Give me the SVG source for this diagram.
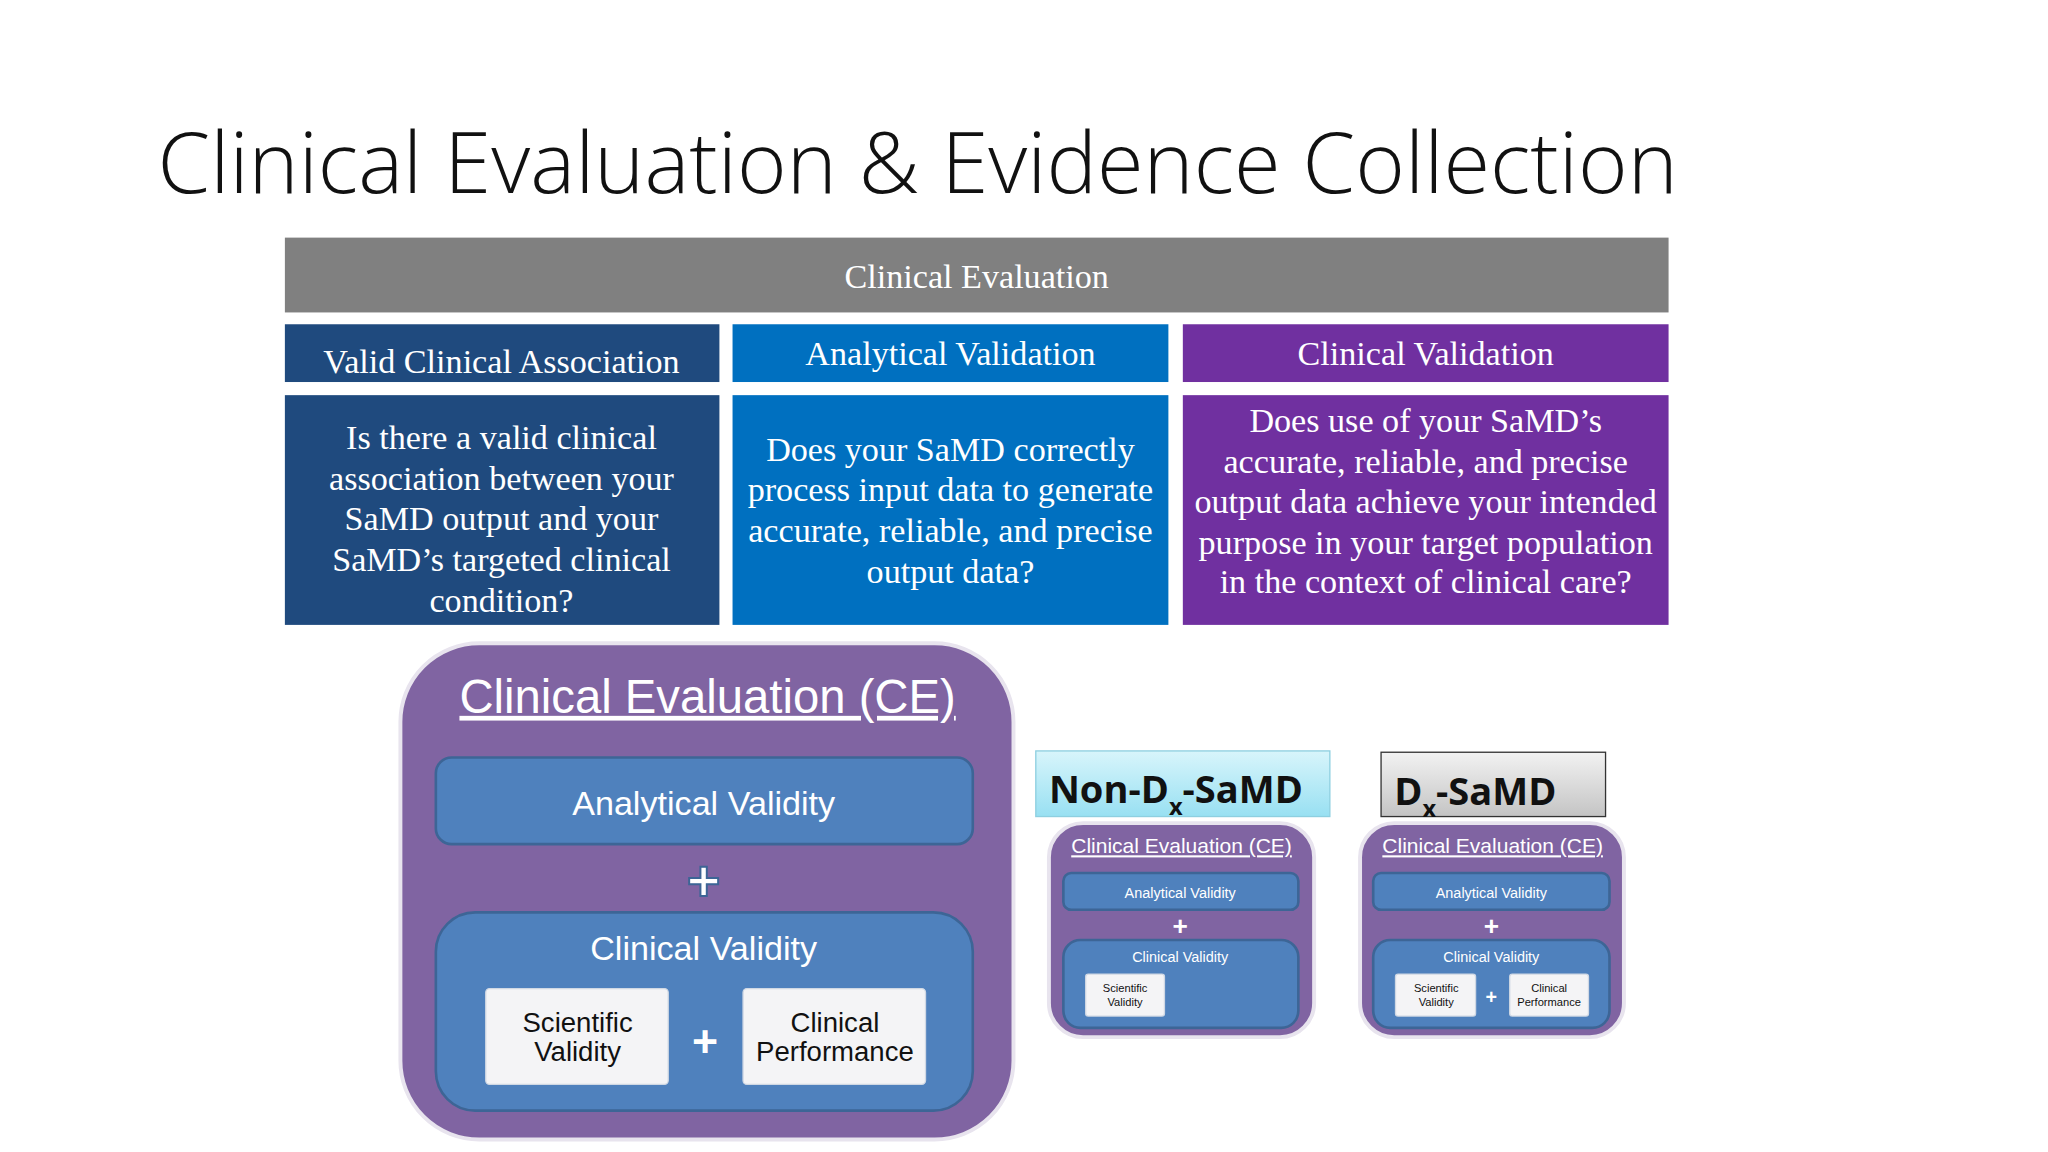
<svg xmlns="http://www.w3.org/2000/svg" width="2048" height="1152" viewBox="0 0 2048 1152">
<defs>
<style>
.ser{font-family:"Liberation Serif",serif;fill:#fff;text-anchor:middle}
.ss{font-family:"Liberation Sans",Arial,sans-serif;text-anchor:middle}
.w{fill:#fff}
.ce{fill:#8064a2;stroke:#e8e4ee;stroke-width:3}
.bl{fill:#4f81bd;stroke:#3d6596;stroke-width:2}
.wb{fill:#f4f4f6;stroke:#d0d8e4;stroke-width:1}
</style>
<linearGradient id="cy" x1="0" y1="0" x2="0" y2="1"><stop offset="0" stop-color="#d8f5fb"/><stop offset="1" stop-color="#98e0f2"/></linearGradient>
<linearGradient id="gr" x1="0" y1="0" x2="0" y2="1"><stop offset="0" stop-color="#f2f2f2"/><stop offset="1" stop-color="#c4c4c4"/></linearGradient>
</defs>
<rect width="2048" height="1152" fill="#fff"/>
<g transform="scale(1.3128)">
<g id="title"><text x="120" y="147" font-family="Open Sans,Noto Sans,sans-serif" font-weight="300" font-size="64" fill="#111" textLength="1158" lengthAdjust="spacingAndGlyphs">Clinical Evaluation &amp; Evidence Collection</text></g>
<g id="table">
<rect x="217" y="181" width="1054" height="57" fill="#808080"/>
<text class="ser" x="744" y="219" font-size="26">Clinical Evaluation</text>
<rect x="217" y="247" width="331" height="44" fill="#1f4a7e"/>
<text class="ser" x="382" y="284" font-size="26">Valid Clinical Association</text>
<rect x="558" y="247" width="332" height="44" fill="#0070c0"/>
<text class="ser" x="724" y="278" font-size="26">Analytical Validation</text>
<rect x="901" y="247" width="370" height="44" fill="#7030a0"/>
<text class="ser" x="1086" y="278" font-size="26">Clinical Validation</text>
<rect x="217" y="301" width="331" height="175" fill="#1f4a7e"/>
<text class="ser" font-size="26"><tspan x="382" y="342">Is there a valid clinical</tspan><tspan x="382" y="373">association between your</tspan><tspan x="382" y="404">SaMD output and your</tspan><tspan x="382" y="435">SaMD’s targeted clinical</tspan><tspan x="382" y="466">condition?</tspan></text>
<rect x="558" y="301" width="332" height="175" fill="#0070c0"/>
<text class="ser" font-size="26"><tspan x="724" y="351">Does your SaMD correctly</tspan><tspan x="724" y="382">process input data to generate</tspan><tspan x="724" y="413">accurate, reliable, and precise</tspan><tspan x="724" y="444">output data?</tspan></text>
<rect x="901" y="301" width="370" height="175" fill="#7030a0"/>
<text class="ser" font-size="26"><tspan x="1086" y="329">Does use of your SaMD’s</tspan><tspan x="1086" y="360">accurate, reliable, and precise</tspan><tspan x="1086" y="391">output data achieve your intended</tspan><tspan x="1086" y="422">purpose in your target population</tspan><tspan x="1086" y="452">in the context of clinical care?</tspan></text>
</g>
<g id="ce-big">
<rect class="ce" x="305" y="490" width="467" height="378" rx="60"/>
<text class="ss w" x="539" y="543" font-size="36" text-decoration="underline">Clinical Evaluation (CE)</text>
<rect class="bl" x="332" y="577" width="409" height="66" rx="12"/>
<text class="ss w" x="536" y="621" font-size="26">Analytical Validity</text>
<text class="ss w" x="536" y="686" font-size="44" font-weight="bold" stroke="#3d6596" stroke-width="1.5">+</text>
<rect class="bl" x="332" y="695" width="409" height="151" rx="30"/>
<text class="ss w" x="536" y="731" font-size="26">Clinical Validity</text>
<rect class="wb" x="370" y="753" width="139" height="73" rx="3"/>
<text class="ss" x="440" y="786" font-size="21" fill="#111">Scientific</text>
<text class="ss" x="440" y="808" font-size="21" fill="#111">Validity</text>
<text class="ss w" x="537" y="805" font-size="34" font-weight="bold">+</text>
<rect class="wb" x="566" y="753" width="139" height="73" rx="3"/>
<text class="ss" x="636" y="786" font-size="21" fill="#111">Clinical</text>
<text class="ss" x="636" y="808" font-size="21" fill="#111">Performance</text>
</g>
<g id="nondx">
<rect x="789" y="572" width="224" height="50" fill="url(#cy)" stroke="#8ecfe0"/>
<text x="799" y="612" font-family="Open Sans,Noto Sans,sans-serif" font-weight="bold" font-size="29" fill="#111">Non-D<tspan font-size="18" dy="9">x</tspan><tspan dy="-9">-SaMD</tspan></text>
<rect class="ce" x="799" y="627" width="202" height="163" rx="26"/>
<text class="ss w" x="900" y="650" font-size="16" text-decoration="underline">Clinical Evaluation (CE)</text>
<rect class="bl" x="810" y="665" width="179" height="28" rx="6"/>
<text class="ss w" x="899" y="684" font-size="11">Analytical Validity</text>
<text class="ss w" x="899" y="712" font-size="20" font-weight="bold">+</text>
<rect class="bl" x="810" y="716" width="179" height="67" rx="13"/>
<text class="ss w" x="899" y="733" font-size="11">Clinical Validity</text>
<rect class="wb" x="827" y="742" width="60" height="32" rx="2"/>
<text class="ss" x="857" y="756" font-size="8.5" fill="#111">Scientific</text>
<text class="ss" x="857" y="766" font-size="8.5" fill="#111">Validity</text>
</g>
<g id="dx">
<rect x="1052" y="573" width="171" height="49" fill="url(#gr)" stroke="#333"/>
<text x="1062" y="613" font-family="Open Sans,Noto Sans,sans-serif" font-weight="bold" font-size="29" fill="#111">D<tspan font-size="18" dy="9">x</tspan><tspan dy="-9">-SaMD</tspan></text>
<rect class="ce" x="1036" y="627" width="201" height="163" rx="26"/>
<text class="ss w" x="1137" y="650" font-size="16" text-decoration="underline">Clinical Evaluation (CE)</text>
<rect class="bl" x="1046" y="665" width="180" height="28" rx="6"/>
<text class="ss w" x="1136" y="684" font-size="11">Analytical Validity</text>
<text class="ss w" x="1136" y="712" font-size="20" font-weight="bold">+</text>
<rect class="bl" x="1046" y="716" width="180" height="67" rx="13"/>
<text class="ss w" x="1136" y="733" font-size="11">Clinical Validity</text>
<rect class="wb" x="1063" y="742" width="61" height="32" rx="2"/>
<text class="ss" x="1094" y="756" font-size="8.5" fill="#111">Scientific</text>
<text class="ss" x="1094" y="766" font-size="8.5" fill="#111">Validity</text>
<text class="ss w" x="1136" y="765" font-size="15" font-weight="bold">+</text>
<rect class="wb" x="1150" y="742" width="60" height="32" rx="2"/>
<text class="ss" x="1180" y="756" font-size="8.5" fill="#111">Clinical</text>
<text class="ss" x="1180" y="766" font-size="8.5" fill="#111">Performance</text>
</g>
<g id="connectors"/>
</g>
</svg>
